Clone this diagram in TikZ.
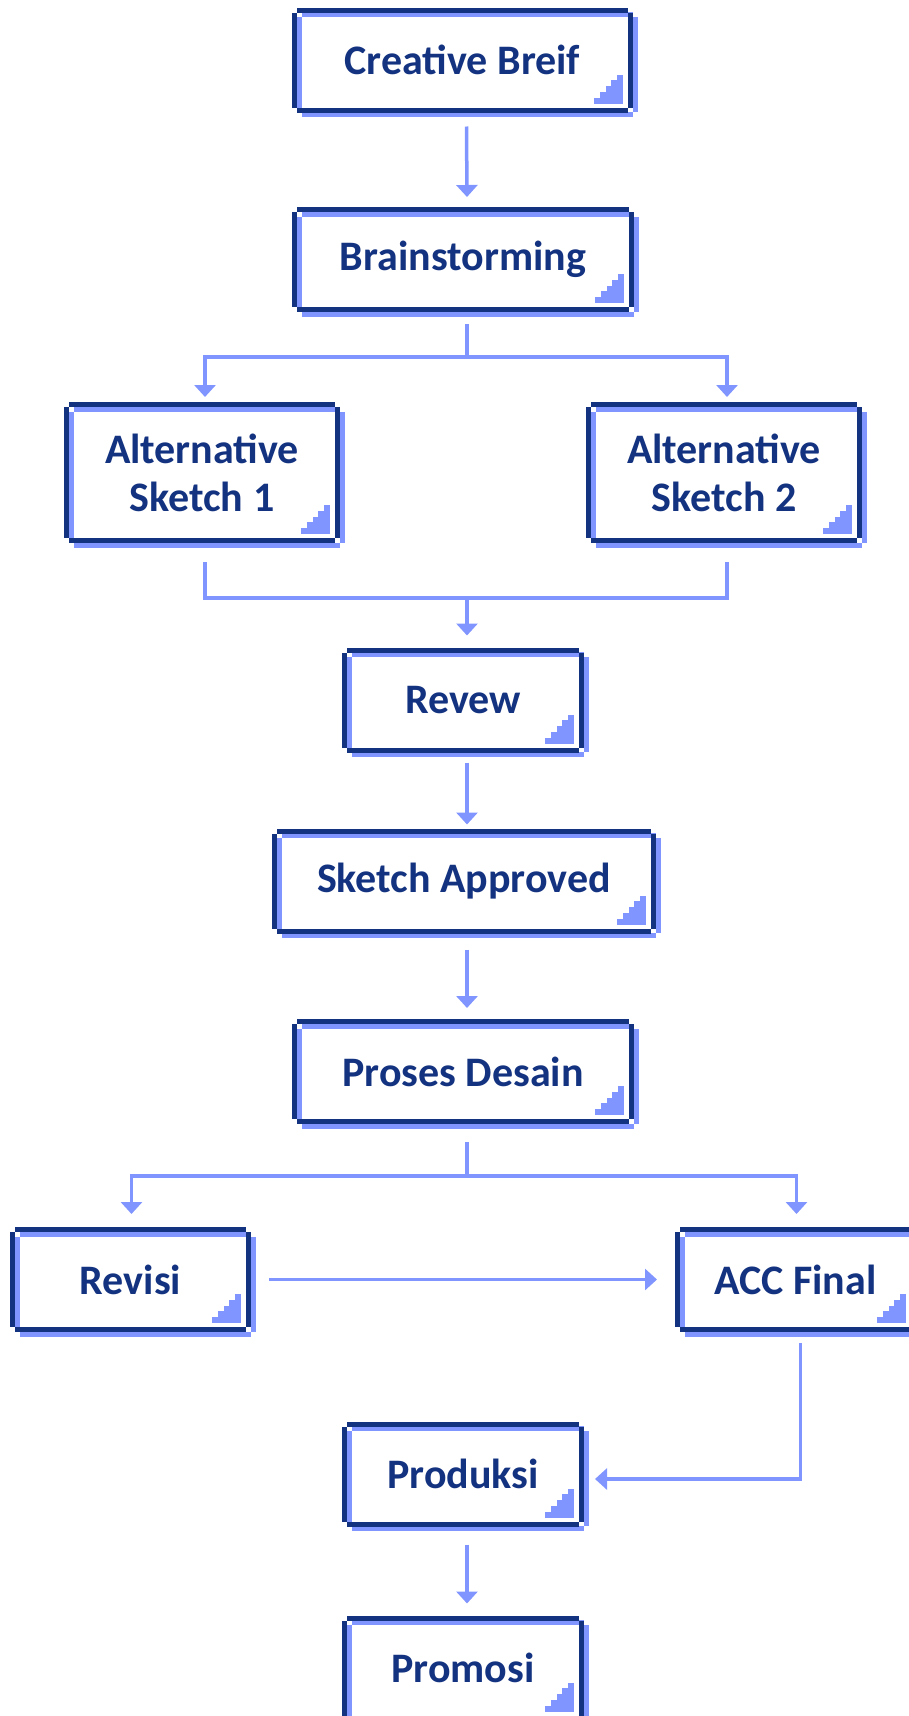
\documentclass[tikz,border=0pt]{standalone}
\usepackage{fontspec}
\setmainfont{Carlito}
\usetikzlibrary{calc,arrows.meta}
\definecolor{navy}{RGB}{19,50,128}
\definecolor{peri}{RGB}{128,149,255}

\tikzset{
  stepbox/.style={fill=white, inner sep=0pt, outer sep=0pt, minimum height=105pt,
    text=navy, align=center, font=\fontsize{42}{48}\selectfont\bfseries},
  link/.style={draw=peri, line width=3.5pt},
  flow/.style={link, -{Triangle[width=21pt,length=12pt]}}
}

% four bars of a frame with cut corners: node, colour, offset
\newcommand\pixbars[3]{%
  \fill[#2] ($(#1.north west)+(5pt+#3,-#3)$) rectangle ($(#1.north east)+(-5pt+#3,-5pt-#3)$);
  \fill[#2] ($(#1.south west)+(5pt+#3,5pt-#3)$) rectangle ($(#1.south east)+(-5pt+#3,-#3)$);
  \fill[#2] ($(#1.north west)+(#3,-5pt-#3)$) rectangle ($(#1.south west)+(5pt+#3,5pt-#3)$);
  \fill[#2] ($(#1.north east)+(-5pt+#3,-5pt-#3)$) rectangle ($(#1.south east)+(#3,5pt-#3)$);
}
\newcommand\pixframe[1]{%
  \pixbars{#1}{peri}{4.5pt}
  \pixbars{#1}{navy}{0pt}
  \foreach \k in {1,...,5}
    {\fill[peri] ($(#1.south east)+(-10pt,{9pt+(5-\k)*5.8pt})$) rectangle ++({-\k*5.8pt},5.8pt);}
}

\begin{document}
\begin{tikzpicture}[x=1pt,y=-1pt]
\useasboundingbox (0,0) rectangle (909,1716);

\node[stepbox, minimum width=341pt] (cb) at (462.5,60) {Creative Breif};
\node[stepbox, minimum width=342pt] (bs) at (463,259.5) {Brainstorming};
\node[stepbox, minimum width=276pt, minimum height=141pt] (alta) at (202,472.5) {Alternative\\Sketch 1};
\node[stepbox, minimum width=276pt, minimum height=141pt] (altb) at (724,472.5) {Alternative\\Sketch 2};
\node[stepbox, minimum width=242pt] (rv) at (463,700) {Revew};
\node[stepbox, minimum width=384pt] (sa) at (464,881) {Sketch Approved};
\node[stepbox, minimum width=342pt] (pd) at (463,1071.5) {Proses Desain};
\node[stepbox, minimum width=241pt] (rs) at (130.5,1279.5) {Revisi};
\node[stepbox, minimum width=241pt] (acc) at (795.5,1279.5) {ACC Final};
\node[stepbox, minimum width=242pt] (pr) at (463,1474) {Produksi};
\node[stepbox, minimum width=242pt] (pm) at (463,1668) {Promosi};

\foreach \n in {cb,bs,alta,altb,rv,sa,pd,rs,acc,pr,pm}{\pixframe{\n}}

% connectors
\draw[flow] ([xshift=4pt,yshift=-14pt]cb.south) -- ([xshift=4pt,yshift=10pt]bs.north);

\coordinate (fork1) at ($(bs.south)+(4,45)$);
\draw[link] ([xshift=4pt,yshift=-12pt]bs.south) -- (fork1);
\draw[flow] (fork1) -| ([xshift=3pt,yshift=5pt]alta.north);
\draw[flow] (fork1) -| ([xshift=3pt,yshift=5pt]altb.north);

\coordinate (join1) at ($(alta.south -| rv.north)+(4,55)$);
\draw[link] ([xshift=3pt,yshift=-19pt]alta.south) |- (join1);
\draw[link] ([xshift=3pt,yshift=-19pt]altb.south) |- (join1);
\draw[flow] (join1) -- ([xshift=4pt,yshift=12pt]rv.north);

\draw[flow] ([xshift=4pt,yshift=-10pt]rv.south) -- ([xshift=3pt,yshift=4pt]sa.north);
\draw[flow] ([xshift=3pt,yshift=-16pt]sa.south) -- ([xshift=4pt,yshift=11pt]pd.north);

\coordinate (fork2) at ($(pd.south)+(4,52)$);
\draw[link] ([xshift=4pt,yshift=-18pt]pd.south) -- (fork2);
\draw[flow] (fork2) -| ([xshift=1pt,yshift=13pt]rs.north);
\draw[flow] (fork2) -| ([xshift=1pt,yshift=13pt]acc.north);

\draw[flow] ([xshift=18pt]rs.east) -- ([xshift=-18pt]acc.west);
\draw[flow] ([xshift=5pt,yshift=-11pt]acc.south) |- ([xshift=11pt,yshift=-5pt]pr.east);
\draw[flow] ([xshift=4pt,yshift=-18pt]pr.south) -- ([xshift=4pt,yshift=12pt]pm.north);

\end{tikzpicture}
\end{document}
